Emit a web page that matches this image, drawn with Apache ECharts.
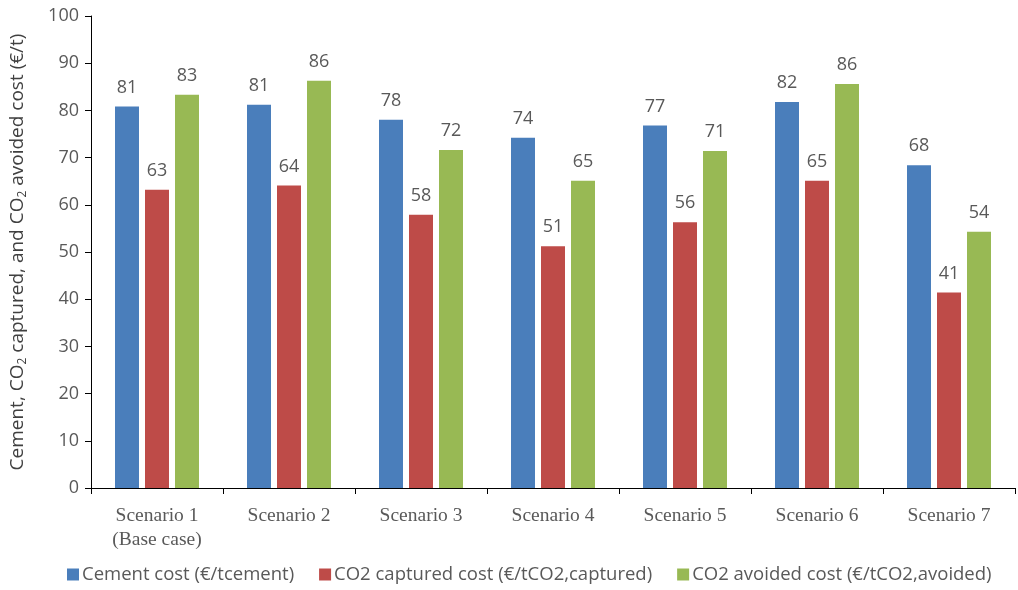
<!DOCTYPE html>
<html>
<head>
<meta charset="utf-8">
<script src="https://cdn.jsdelivr.net/npm/echarts@6/dist/echarts.min.js"></script>
<style>
  html, body { margin: 0; padding: 0; background: #fff; }
  #chart { width: 1018px; height: 590px; }
</style>
</head>
<body>
<div id="chart"></div>
<script>
const scenarios = ['Scenario 1\n(Base case)', 'Scenario 2', 'Scenario 3', 'Scenario 4', 'Scenario 5', 'Scenario 6', 'Scenario 7'];
const cementCost = [80.8, 81.2, 78.0, 74.2, 76.8, 81.8, 68.4];
const capturedCost = [63.2, 64.1, 57.9, 51.2, 56.3, 65.1, 41.4];
const avoidedCost = [83.3, 86.3, 71.6, 65.1, 71.4, 85.6, 54.3];

const chart = echarts.init(document.getElementById('chart'));

const labelStyle = {
  show: true,
  position: 'top',
  distance: 10,
  color: '#595959',
  fontSize: 18,
  fontFamily: 'Open Sans',
  formatter: p => Math.round(p.value)
};

function bar(name, data, color) {
  return {
    name: name,
    type: 'bar',
    data: data,
    barWidth: 24,
    barGap: '25%',
    itemStyle: { color: color },
    label: labelStyle
  };
}

chart.setOption({
  animation: false,
  grid: { left: 91, right: 3, top: 16, bottom: 102, outerBoundsMode: 'none', containLabel: false },
  legend: {
    bottom: 1,
    left: 62,
    itemWidth: 12,
    itemHeight: 12,
    itemGap: 25,
    icon: 'rect',
    textStyle: { color: '#595959', fontSize: 18.5, fontFamily: 'Open Sans', padding: [0, 0, 0, -2] }
  },
  xAxis: {
    type: 'category',
    data: scenarios,
    axisLine: { lineStyle: { color: '#000', width: 1 } },
    axisTick: { show: true, length: 6, lineStyle: { color: '#000' } },
    axisLabel: {
      color: '#595959',
      fontSize: 19.5,
      fontFamily: 'Liberation Serif',
      lineHeight: 24,
      margin: 16
    }
  },
  yAxis: {
    type: 'value',
    min: 0,
    max: 100,
    interval: 10,
    name: '{n|Cement, CO}{s|2}{n| captured, and CO}{s|2}{n| avoided cost (€/t)}',
    nameLocation: 'middle',
    nameGap: 62,
    nameRotate: 90,
    nameTextStyle: {
      rich: {
        n: { color: '#404040', fontSize: 19, fontFamily: 'Open Sans' },
        s: { color: '#404040', fontSize: 12, fontFamily: 'Open Sans', padding: [11, 0, 0, 0] }
      }
    },
    axisLine: { show: true, lineStyle: { color: '#000', width: 1 } },
    axisTick: { show: true, length: 6, lineStyle: { color: '#000' } },
    splitLine: { show: false },
    axisLabel: {
      color: '#595959',
      fontSize: 18,
      fontFamily: 'Open Sans',
      margin: 12
    }
  },
  series: [
    bar('Cement cost (€/tcement)', cementCost, '#4a7ebb'),
    bar('CO2 captured cost (€/tCO2,captured)', capturedCost, '#be4b48'),
    bar('CO2 avoided cost (€/tCO2,avoided)', avoidedCost, '#98b954')
  ]
});
</script>
</body>
</html>
